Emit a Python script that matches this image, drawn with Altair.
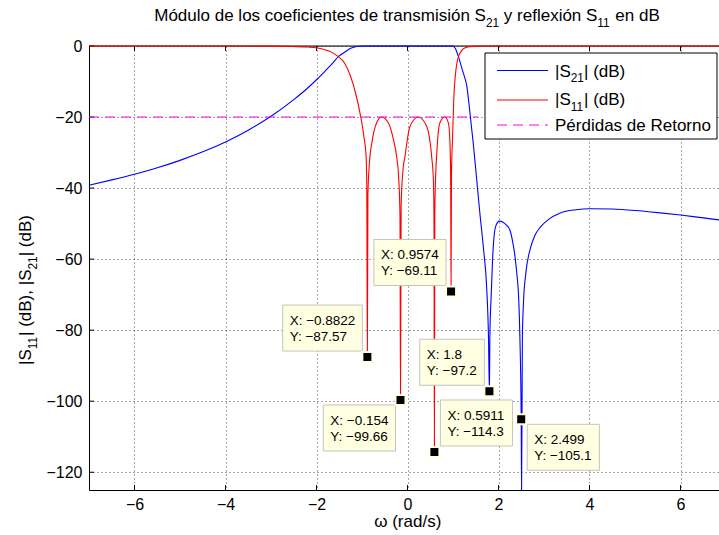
import altair as alt
import pandas as pd

# ---------------- data ----------------
# |S21| in dB versus normalized frequency
w21 = [-7.0, -6.5, -6.0, -5.5, -5.0, -4.5, -4.0, -3.5, -3.0, -2.5, -2.2, -2.0,
       -1.8, -1.63, -1.52, -1.4, -1.25, -1.14, -1.03, -0.9, 1.0, 1.02, 1.05,
       1.08, 1.12, 1.16, 1.2, 1.26, 1.3, 1.37, 1.45, 1.52, 1.59, 1.67, 1.74,
       1.78, 1.8, 1.81, 1.84, 1.87, 1.9, 1.945, 2.02, 2.1, 2.18, 2.25, 2.31,
       2.36, 2.41, 2.44, 2.47, 2.499, 2.507, 2.525, 2.55, 2.6, 2.7, 2.8, 2.92,
       3.1, 3.36, 3.7, 4.0, 4.5, 5.0, 5.5, 6.0, 6.5, 7.0]
s21 = [-39.2, -37.7, -36.1, -34.3, -32.2, -29.8, -27.0, -23.7, -19.8, -15.1,
       -11.9, -9.5, -6.9, -4.6, -3.0, -1.9, -0.64, -0.21, -0.05, 0.0, 0.0,
       -0.18, -0.66, -1.56, -3.0, -4.7, -6.5, -9.0, -11.0, -18.5, -28.0,
       -37.5, -47.0, -57.0, -68.0, -82.0, -97.2, -82.0, -70.0, -60.0, -54.0,
       -50.5, -49.3, -49.6, -50.5, -51.8, -55.0, -59.0, -65.0, -70.0, -82.0,
       -105.1, -135.0, -82.0, -72.0, -64.0, -57.0, -53.3, -51.0, -48.8, -47.0,
       -46.1, -45.8, -45.9, -46.3, -46.9, -47.6, -48.4, -49.2]

# |S11| in dB versus normalized frequency
w11 = [-7.0, -4.0, -3.0, -2.5, -2.2, -2.0, -1.8, -1.63, -1.52, -1.4, -1.25,
       -1.14, -1.03, -0.96, -0.91, -0.895, -0.8822, -0.87, -0.84, -0.78, -0.68,
       -0.57, -0.42, -0.31, -0.24, -0.19, -0.165, -0.154, -0.14, -0.1, -0.055,
       0.055, 0.24, 0.42, 0.53, 0.57, 0.582, 0.5911, 0.6, 0.615, 0.64, 0.71,
       0.82, 0.9, 0.93, 0.948, 0.9574, 0.967, 0.99, 1.02, 1.05, 1.08, 1.12,
       1.16, 1.2, 1.3, 1.45, 1.7, 2.0, 4.0, 7.0]
s11 = [0.0, -0.01, -0.04, -0.15, -0.3, -0.5, -1.1, -2.0, -3.0, -4.5, -8.6,
       -13.3, -19.8, -25.4, -31.0, -40.0, -87.57, -42.0, -33.5, -27.0, -21.7,
       -20.0, -21.7, -26.3, -31.0, -38.0, -48.0, -99.66, -45.0, -35.0, -31.0,
       -22.6, -20.0, -22.6, -31.0, -38.0, -48.0, -114.3, -48.0, -38.0, -31.0,
       -21.7, -20.0, -21.7, -26.3, -36.0, -69.11, -36.0, -26.0, -14.0, -8.5,
       -5.2, -3.0, -1.8, -1.1, -0.35, -0.1, -0.02, 0.0, 0.0, 0.0]

# return-loss reference level
rl_w = [-7.0, 1.55]
rl_db = [-20.0, -20.0]

# data tips
tip_w = [-0.8822, -0.154, 0.5911, 0.9574, 1.8, 2.499]
tip_db = [-87.57, -99.66, -114.3, -69.11, -97.2, -105.1]
tip_side = ["ul", "dl", "ur", "ul", "ul", "dr"]

x_ticks = [-6, -4, -2, 0, 2, 4, 6]
y_ticks = [-120, -100, -80, -60, -40, -20, 0]

# ---------------- layout ----------------
FONT = "Liberation Sans"
W, H = 630, 444
PX_PER_UNIT = 45.5
X_MAX = -7 + W / PX_PER_UNIT
AX_CENTER = 7 * PX_PER_UNIT - 0.5  # centre of the full [-7, 7] axes box
FS = 17
TIP_FS = 13.5
NBSP = "\u00a0"

# Helvetica / Liberation Sans advance widths (per 1000 em)
ADV = {" ": 278, NBSP: 278, "(": 333, ")": 333, ",": 278, "-": 333, ".": 278,
       "/": 278, ":": 278, "|": 260, "\u2212": 584, "\u03c9": 690,
       "A": 667, "B": 667, "C": 722, "D": 722, "E": 667, "F": 611, "G": 778,
       "H": 722, "I": 278, "J": 500, "K": 667, "L": 556, "M": 833, "N": 722,
       "O": 778, "P": 667, "Q": 778, "R": 722, "S": 667, "T": 611, "U": 722,
       "V": 667, "W": 944, "X": 667, "Y": 667, "Z": 611,
       "a": 556, "b": 556, "c": 500, "d": 556, "e": 556, "f": 278, "g": 556,
       "h": 556, "i": 222, "j": 222, "k": 500, "l": 222, "m": 833, "n": 556,
       "o": 556, "p": 556, "q": 556, "r": 333, "s": 500, "t": 278, "u": 556,
       "v": 500, "w": 722, "x": 500, "y": 500, "z": 500,
       "\u00f3": 556, "\u00ed": 278, "\u00e9": 556}


def text_w(s, size):
    return sum(ADV.get(c, 556) for c in s) / 1000.0 * size


one = pd.DataFrame({"k": [0]})


def rich_text(parts, x, y, size, anchor="middle", angle=0):
    """Text with TeX-like subscripts, built from separate text marks.

    Leading/trailing blanks of each piece are turned into position offsets,
    since the renderer drops edge whitespace."""
    sub = size * 0.7
    drop = size * 0.33
    widths = [text_w(t, sub if s else size) for t, s in parts]
    off = -sum(widths) / 2 if anchor == "middle" else 0.0
    out = []
    for (t, s), wd in zip(parts, widths):
        fs = sub if s else size
        lead = len(t) - len(t.lstrip(" "))
        core = t.strip(" ")
        o = off + text_w(" " * lead, fs)
        d = drop if s else 0.0
        if angle == 0:
            px, py = x + o, y + d
        else:
            px, py = x + d, y - o
        out.append(
            alt.Chart(one).mark_text(
                text=core, align="left", baseline="alphabetic",
                font=FONT, fontSize=fs, angle=angle, color="black"
            ).encode(x=alt.value(px), y=alt.value(py))
        )
        off += wd
    return out


X_ENC = alt.X(
    "w:Q",
    scale=alt.Scale(domain=[-7, X_MAX], nice=False, zero=False),
    axis=alt.Axis(values=x_ticks, title=None, grid=True, ticks=False,
                  labelFontSize=16, labelFont=FONT, labelColor="black",
                  labelPadding=6, domainColor="black", domainWidth=1,
                  gridColor="black", gridDash=[1, 3], gridOpacity=0.7),
)
Y_ENC = alt.Y(
    "db:Q",
    scale=alt.Scale(domain=[-125, 0], nice=False, zero=False, clamp=True),
    axis=alt.Axis(values=y_ticks, title=None, grid=True, ticks=False,
                  labelFontSize=16, labelFont=FONT, labelColor="black",
                  labelPadding=7, domainColor="black", domainWidth=1,
                  gridColor="black", gridDash=[1, 3], gridOpacity=0.7),
)

df21 = pd.DataFrame({"w": w21, "db": s21})
df11 = pd.DataFrame({"w": w11, "db": s11})
dfrl = pd.DataFrame({"w": rl_w, "db": rl_db})
dfxt = pd.DataFrame({"w": x_ticks})
dfyt = pd.DataFrame({"db": y_ticks})

layers = []

# box top edge
layers.append(alt.Chart(one).mark_rule(color="black", strokeWidth=1).encode(
    x=alt.value(0), x2=alt.value(W), y=alt.value(0)))

# inward tick marks (bottom, top, left)
layers.append(alt.Chart(dfxt).mark_rule(color="black").encode(
    x=X_ENC, y=alt.value(H), y2=alt.value(H - 5)))
layers.append(alt.Chart(dfxt).mark_rule(color="black").encode(
    x=X_ENC, y=alt.value(0), y2=alt.value(5)))
layers.append(alt.Chart(dfyt).mark_rule(color="black").encode(
    y=Y_ENC, x=alt.value(0), x2=alt.value(5)))

# curves
layers.append(alt.Chart(df21).mark_line(
    color="#0000ff", strokeWidth=1.1, interpolate="monotone", clip=False
).encode(x=X_ENC, y=Y_ENC, order=alt.Order("w:Q")))
layers.append(alt.Chart(df11).mark_line(
    color="#ff0000", strokeWidth=1.1, interpolate="monotone", clip=False
).encode(x=X_ENC, y=Y_ENC, order=alt.Order("w:Q")))
layers.append(alt.Chart(dfrl).mark_line(
    color="#ff00ff", strokeWidth=1.1, strokeDash=[10, 6], clip=False
).encode(x=X_ENC, y=Y_ENC))

# data tips
BOX_H = 46
PAD = 7
for wv, dv, side in zip(tip_w, tip_db, tip_side):
    l1 = "X: " + str(wv).replace("-", "\u2212")
    l2 = "Y: " + str(dv).replace("-", "\u2212")
    bw = max(text_w(l1, TIP_FS), text_w(l2, TIP_FS)) + 2 * PAD
    if side[1] == "l":
        right = -5
        left = right - bw
    else:
        left = 6
        right = left + bw
    if side[0] == "u":
        bottom = -6
        top = bottom - BOX_H
    else:
        top = 5
        bottom = top + BOX_H
    d = pd.DataFrame({"w": [wv], "db": [dv]})
    layers.append(alt.Chart(d).mark_rect(
        fill="#ffffe1", stroke="#c4c4bc", strokeWidth=1,
        xOffset=left, x2Offset=right, yOffset=top, y2Offset=bottom
    ).encode(x=X_ENC, x2=alt.X2("w:Q"), y=Y_ENC, y2=alt.Y2("db:Q")))
    for txt, base in ((l1, 20), (l2, 36)):
        layers.append(alt.Chart(d).mark_text(
            text=txt.replace(" ", NBSP), align="left", baseline="alphabetic",
            font=FONT, fontSize=TIP_FS, color="black",
            dx=left + PAD, dy=top + base
        ).encode(x=X_ENC, y=Y_ENC))
    layers.append(alt.Chart(d).mark_point(
        shape="square", filled=True, size=100, fill="black", opacity=1,
        stroke="#ffffe1", strokeWidth=2
    ).encode(x=X_ENC, y=Y_ENC))

# legend
LX0, LX1, LY0, LY1 = 396, 628, 7, 93
layers.append(alt.Chart(one).mark_rect(
    fill="white", stroke="black", strokeWidth=1
).encode(x=alt.value(LX0), x2=alt.value(LX1), y=alt.value(LY0), y2=alt.value(LY1)))
legend_rows = [
    ("#0000ff", None, 24.5, 30.5, [("|S", 0), ("21", 1), ("| (dB)", 0)]),
    ("#ff0000", None, 54, 59, [("|S", 0), ("11", 1), ("| (dB)", 0)]),
    ("#ff00ff", [10, 6], 79, 84.5, [("P\u00e9rdidas de Retorno", 0)]),
]
for col, dash, ly, tb, parts in legend_rows:
    kw = dict(color=col, strokeWidth=1.1)
    if dash:
        kw["strokeDash"] = dash
    layers.append(alt.Chart(one).mark_rule(**kw).encode(
        x=alt.value(408), x2=alt.value(459), y=alt.value(ly)))
    layers += rich_text(parts, 466, tb, FS, anchor="start")

# title and axis labels
layers += rich_text(
    [("M\u00f3dulo de los coeficientes de transmisi\u00f3n S", 0), ("21", 1),
     (" y reflexi\u00f3n S", 0), ("11", 1), (" en dB", 0)],
    AX_CENTER, -25, FS)
layers += rich_text([("\u03c9 (rad/s)", 0)], AX_CENTER, 481, FS)
layers += rich_text(
    [("|S", 0), ("11", 1), ("| (dB), |S", 0), ("21", 1), ("| (dB)", 0)],
    -58, 244, FS, angle=270)

chart = alt.layer(*layers).properties(
    width=W, height=H,
    autosize=alt.AutoSizeParams(type="none"),
    padding={"left": 89, "top": 46, "right": 0, "bottom": 45},
).configure_view(stroke=None).configure(background="white")

chart.save("out.html", embed_options={"renderer": "svg", "actions": False})
